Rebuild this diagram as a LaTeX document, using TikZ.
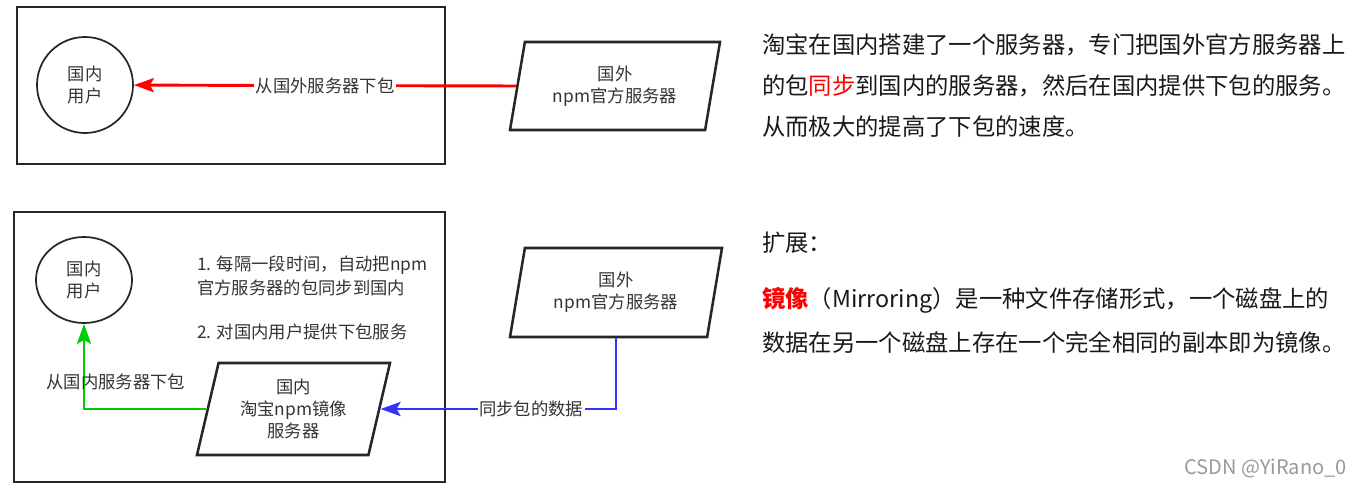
\documentclass[tikz,border=0pt]{standalone}
\usepackage{fontspec}
\setmainfont{Noto Sans CJK SC}
\usepackage{tikz}
\usetikzlibrary{arrows.meta}
\usetikzlibrary{shapes.geometric}
\definecolor{txtgray}{HTML}{333333}
\definecolor{linkred}{HTML}{FF0000}
\definecolor{linkgreen}{HTML}{00CC00}
\definecolor{linkblue}{HTML}{3333FF}

\begin{document}
\begin{tikzpicture}[x=0.75pt,y=-0.75pt,
	frame/.style={draw=black!85, line width=1.75pt, inner sep=0pt},
	user/.style={ellipse, draw=black!85, line width=1.3pt, align=center, text=txtgray, inner sep=0pt, font=\fontsize{13pt}{16pt}\selectfont},
	server/.style={trapezium, trapezium left angle=71, trapezium right angle=109, trapezium stretches body, draw=black!85, line width=1.9pt, align=center, text=txtgray, inner sep=1pt, font=\fontsize{13pt}{16.5pt}\selectfont},
	lbl/.style={text=txtgray, fill=white, inner sep=1pt, font=\fontsize{13pt}{16pt}\selectfont},
	note/.style={anchor=west, text=txtgray, inner sep=0pt, font=\fontsize{13pt}{16pt}\selectfont},
	para/.style={anchor=west, text=black!90, inner sep=0pt, font=\fontsize{17.5pt}{21pt}\selectfont},
	link/.style={line width=2.2pt, -{Stealth[length=15pt,width=10.5pt,inset=3pt]}}]
				\useasboundingbox (0,0) rectangle (1362,488);
				\node[frame, minimum width=321pt, minimum height=117.75pt] (f1) at (231,85.5) {};
				\node[frame, minimum width=323.25pt, minimum height=202.5pt] (f2) at (229.5,347) {};
				
				\node[user, minimum width=72pt, minimum height=72pt] (0) at (85,85) {国内\\用户};
				\node[server, minimum width=157.5pt, minimum height=66pt] (1) at (615,86) {国外\\npm官方服务器};
				\node[user, minimum width=72pt, minimum height=64.5pt] (2) at (84,280) {国内\\用户};
				\node[server, minimum width=144.75pt, minimum height=69pt] (3) at (293.5,409) {国内\\淘宝npm镜像\\服务器};
				\node[server, minimum width=159pt, minimum height=66.75pt] (4) at (616,292.5) {国外\\npm官方服务器};
				
				\node[note] (n1) at (197,265) {1. 每隔一段时间，自动把npm};
				\node[note] (n2) at (197,288) {官方服务器的包同步到国内};
				\node[note] (n3) at (197,332) {2. 对国内用户提供下包服务};
				
				\draw[link, linkred]  (1.west) -- (0) node[midway, lbl] {从国外服务器下包};
				\draw[link, linkgreen]  (3.west) -| (2) node[pos=0.37, above=12pt, lbl, fill=none] {从国内服务器下包};
				\draw[link, linkblue]  (4.south) |- (3) node[pos=0.68, lbl] {同步包的数据};
				
				\node[para] (p1) at (762,45) {淘宝在国内搭建了一个服务器，专门把国外官方服务器上};
				\node[para] (p2) at (762,86) {的包{\color{linkred}同步}到国内的服务器，然后在国内提供下包的服务。};
				\node[para] (p3) at (762,127) {从而极大的提高了下包的速度。};
				\node[para] (p4) at (762,243) {扩展：};
				\node[para] (p5) at (762,300) {{\color{linkred}\bfseries 镜像}（Mirroring）是一种文件存储形式，一个磁盘上的};
				\node[para] (p6) at (762,343) {数据在另一个磁盘上存在一个完全相同的副本即为镜像。};
				\node[anchor=east, text=black!40, inner sep=0pt, font=\fontsize{15pt}{18pt}\selectfont] (wm) at (1347,468) {CSDN @YiRano\_0};
			\end{tikzpicture}
\end{document}
